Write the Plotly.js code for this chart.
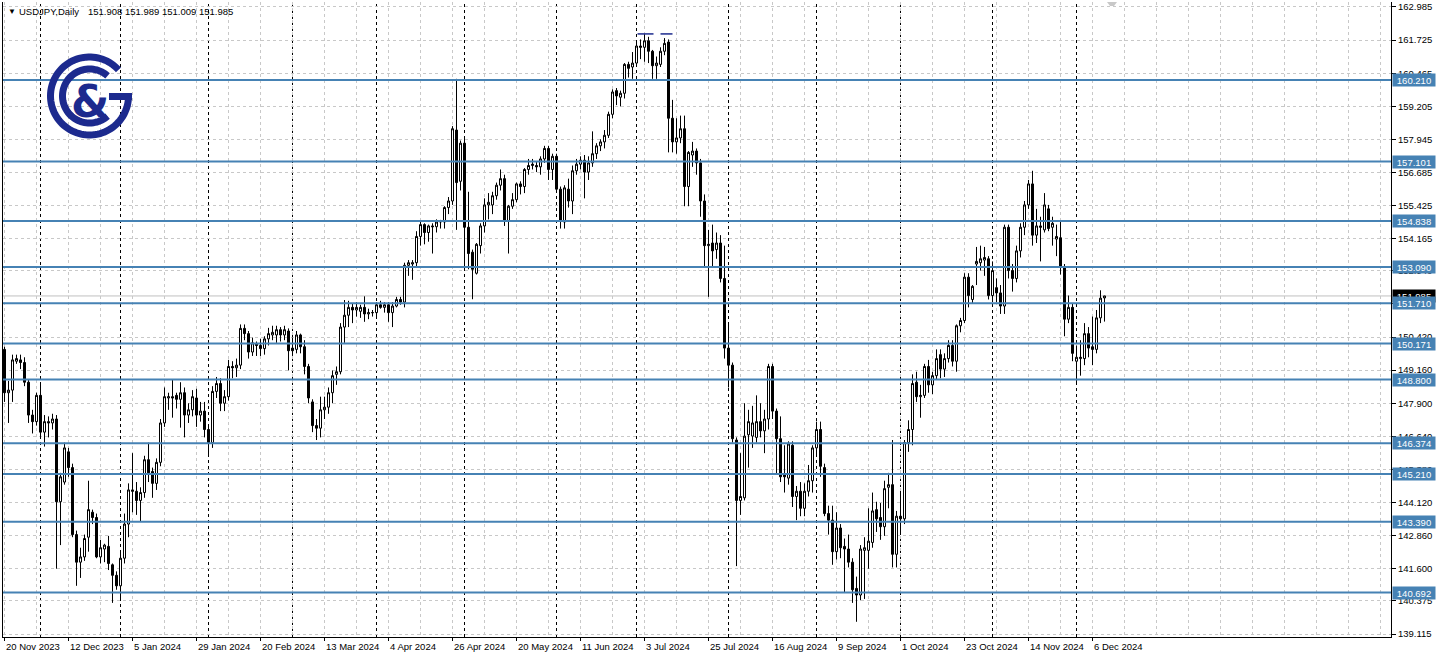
<!DOCTYPE html>
<html><head><meta charset="utf-8">
<script src="https://cdn.plot.ly/plotly-3.0.1.min.js"></script>
<style>html,body{margin:0;padding:0;background:#fff;overflow:hidden}#chart{width:1438px;height:658px}</style>
</head><body><div id="chart"></div>
<script>
// ---------- DATA (USDJPY Daily, 20 Nov 2023 .. 11 Dec 2024, one bar per trading day) ----------
const openP = [
149.95,148.30,148.40,149.50,149.55,149.45,148.70,147.45,147.20,148.20,
146.80,147.20,147.15,147.30,144.15,144.90,146.05,145.45,142.90,141.85,
142.05,142.80,143.75,143.55,142.05,142.35,142.45,141.75,141.35,140.95,
142.00,143.30,144.60,144.55,144.20,144.50,145.75,145.30,144.85,145.65,
147.15,148.10,148.15,148.20,148.05,148.30,147.45,147.65,148.10,147.45,
147.60,146.90,146.40,148.35,148.65,147.90,148.15,149.30,149.25,149.35,
150.75,150.55,149.85,150.15,150.10,149.98,150.35,150.50,150.50,150.70,
150.50,150.65,150.00,149.95,150.50,150.05,149.30,147.95,147.05,146.95,
147.65,147.75,148.30,149.00,149.10,150.80,151.25,151.55,151.45,151.40,
151.55,151.30,151.35,151.35,151.65,151.55,151.65,151.35,151.60,151.85,
151.75,153.15,153.20,153.25,154.25,154.70,154.40,154.65,154.62,154.80,
154.80,155.35,155.60,158.30,156.35,157.80,154.60,153.65,152.85,153.90,
154.65,155.45,155.45,155.80,156.20,156.45,154.85,155.40,155.65,156.25,
156.15,156.80,156.95,156.95,156.90,157.20,157.60,156.80,157.30,156.05,
154.80,156.05,155.60,156.75,157.00,157.15,156.70,157.05,157.40,157.70,
157.85,158.10,158.90,159.80,159.55,159.70,160.80,160.70,160.85,161.50,
161.45,161.70,161.30,160.75,160.80,161.30,161.65,158.75,157.85,158.00,
158.35,156.15,157.35,157.50,157.05,155.60,153.90,154.00,153.75,154.00,
152.65,150.00,149.35,146.50,144.20,144.30,146.70,146.65,146.60,147.20,
146.85,147.30,149.30,147.60,146.55,145.20,145.05,146.30,144.35,144.55,
143.90,144.55,144.95,146.20,146.90,145.45,143.70,143.45,142.25,143.15,
142.45,142.35,141.85,140.85,140.60,142.30,142.30,142.60,143.85,143.55,
143.20,144.70,144.80,142.15,143.60,143.50,146.40,146.90,148.70,148.15,
148.20,149.30,148.60,148.95,149.75,149.20,149.60,150.10,149.50,150.85,
151.05,152.70,151.85,153.20,153.25,153.35,153.40,152.00,152.30,152.10,
151.60,154.60,152.95,152.65,153.70,154.60,155.45,156.25,154.30,154.65,
154.50,155.30,154.60,154.15,154.20,153.05,151.10,151.55,149.50,149.60,
149.60,150.55,150.05,149.95,151.15,151.908];
const highP = [
150.05,148.75,149.75,149.75,149.75,149.65,148.80,147.65,148.30,148.60,
147.45,147.40,147.50,147.45,145.25,146.40,146.20,145.60,143.05,142.40,
142.90,144.95,143.85,143.70,142.70,142.55,142.85,141.80,141.50,142.20,
143.70,144.85,146.00,144.90,144.70,145.90,146.40,145.45,145.80,147.30,
148.50,148.30,148.80,148.30,148.70,148.50,147.90,148.40,148.45,147.95,
147.95,147.00,148.55,148.90,148.85,148.40,149.55,149.50,149.60,150.90,
150.90,150.65,150.40,150.25,150.35,150.45,150.77,150.85,150.85,150.80,
150.85,150.75,150.40,150.65,150.55,150.30,149.40,148.05,147.30,148.15,
148.15,148.50,149.15,149.30,150.95,151.83,151.80,151.70,151.75,151.65,
151.97,151.50,151.45,151.75,151.80,151.75,151.75,151.75,151.95,151.95,
153.25,153.35,153.35,154.45,154.80,154.75,154.70,154.75,154.90,154.88,
155.40,155.75,158.45,160.25,157.90,158.00,155.95,153.75,154.00,154.75,
155.70,155.90,155.95,156.30,156.80,156.60,155.45,155.90,156.30,156.35,
156.85,157.20,157.20,157.10,157.30,157.70,157.70,157.40,157.40,156.15,
156.20,156.45,156.95,157.20,157.30,157.35,157.30,158.25,157.80,157.95,
158.30,159.00,159.85,159.90,159.80,160.85,160.90,161.27,161.72,161.75,
161.95,161.85,161.35,161.10,161.45,161.80,161.75,159.45,158.75,158.85,
158.85,157.50,157.85,157.60,157.20,155.85,154.50,154.70,154.40,154.30,
153.90,150.90,149.45,146.60,146.00,147.90,147.65,147.80,148.20,147.90,
147.65,149.40,149.40,147.70,147.40,146.30,146.45,146.45,144.75,144.90,
144.85,145.55,146.30,147.20,147.20,145.60,144.00,144.00,143.75,143.30,
142.75,142.90,142.00,141.30,142.50,142.80,143.90,144.50,144.15,144.10,
144.95,145.25,146.50,143.80,144.50,146.50,147.25,149.00,149.10,148.60,
149.40,149.55,149.10,149.95,149.95,149.80,150.30,150.30,150.90,151.15,
152.85,152.85,152.40,153.85,153.90,153.85,153.50,153.30,152.65,152.40,
154.70,154.70,153.20,153.90,154.75,155.60,156.40,156.75,155.30,155.00,
155.90,155.45,155.00,154.70,154.80,153.20,152.00,151.70,150.10,150.30,
150.95,150.80,151.20,151.45,152.20,151.989];
const lowP = [
147.95,147.15,147.95,149.40,149.20,148.55,147.15,146.75,147.05,146.60,
146.25,146.60,146.90,141.60,142.50,144.80,145.10,142.80,140.95,141.25,
141.90,142.25,143.30,142.00,141.80,141.85,141.55,140.30,140.80,140.45,
141.80,142.80,143.75,143.65,143.40,144.30,144.90,144.30,144.60,145.50,
147.00,147.65,147.35,147.70,146.97,146.60,147.15,147.40,147.00,147.20,
146.60,145.90,146.20,148.10,147.60,147.60,148.00,148.85,148.90,149.20,
150.30,149.60,149.70,149.70,149.70,149.75,150.10,150.30,150.20,150.25,
150.30,149.15,149.70,149.80,149.80,149.00,147.90,146.80,146.50,146.60,
147.30,147.50,147.90,148.60,149.00,150.20,150.80,150.95,151.20,151.15,
151.00,151.10,151.20,151.20,151.50,151.35,151.00,150.80,151.55,151.65,
151.55,152.75,152.60,153.05,153.90,153.95,154.05,153.60,154.40,154.55,
154.55,155.10,155.45,154.50,156.00,153.00,153.00,151.86,152.80,153.60,
154.40,154.90,155.10,155.65,156.00,154.65,153.60,155.30,155.55,155.85,
155.90,156.60,156.80,156.70,156.60,157.05,156.40,156.40,155.95,154.55,
154.55,155.35,155.10,156.60,156.80,155.70,156.40,156.90,157.20,157.50,
157.60,158.00,158.75,159.25,159.20,159.50,160.30,160.25,160.80,161.00,
160.90,160.85,160.25,160.25,160.70,161.15,157.45,157.45,157.40,157.80,
155.40,155.40,156.90,156.60,155.00,153.10,151.95,153.10,153.40,152.50,
149.60,148.50,146.40,141.70,143.65,144.20,145.45,146.20,146.40,146.60,
146.00,146.90,147.30,145.20,144.90,144.50,144.80,143.95,143.45,143.60,
143.60,144.35,144.50,145.90,145.10,143.60,142.90,141.75,141.95,142.00,
140.70,141.65,140.30,139.58,140.40,140.45,141.60,142.40,143.00,142.70,
142.85,143.90,141.65,141.65,142.95,143.30,146.05,146.30,147.95,147.35,
148.10,148.30,148.25,148.80,148.85,148.90,149.45,149.30,149.10,150.60,
150.95,151.55,151.70,152.40,152.95,152.75,151.85,151.75,151.75,151.30,
151.30,152.65,152.15,152.50,153.45,154.30,155.30,153.90,154.00,153.30,
154.40,154.45,153.90,153.50,152.80,150.45,150.95,149.50,148.70,148.95,
149.35,149.65,149.35,149.80,150.95,151.009];
const closeP = [
148.30,148.40,149.55,149.60,149.45,148.70,147.45,147.20,148.20,146.80,
147.20,147.15,147.30,144.15,145.10,146.20,145.45,142.90,141.85,142.05,
142.75,143.85,143.55,142.05,142.40,142.50,141.80,141.35,140.95,142.00,
143.30,144.60,144.55,144.20,144.50,145.75,145.25,144.85,145.65,147.15,
148.15,148.15,148.10,148.05,148.30,147.45,147.65,148.15,147.45,147.60,
146.90,146.40,148.35,148.65,147.90,148.15,149.30,149.25,149.35,150.75,
150.55,149.85,150.20,150.10,149.98,150.35,150.55,150.60,150.70,150.50,
150.70,149.90,149.90,150.50,150.05,149.30,148.10,147.05,146.95,147.65,
147.75,148.30,148.95,149.10,150.80,151.25,151.55,151.45,151.55,151.55,
151.30,151.35,151.35,151.65,151.55,151.65,151.35,151.60,151.85,151.75,
153.15,153.25,153.25,154.25,154.70,154.40,154.65,154.62,154.80,154.83,
155.35,155.60,158.35,156.30,157.80,154.60,153.60,153.00,153.95,154.65,
155.45,155.55,155.80,156.20,156.45,154.85,155.40,155.65,156.25,156.15,
156.80,156.95,157.00,156.90,157.20,157.60,156.80,157.30,156.05,154.85,
156.10,155.60,156.75,157.00,157.15,156.70,157.05,157.40,157.70,157.85,
158.10,158.90,159.75,159.60,159.70,160.80,160.65,160.85,161.50,161.45,
161.70,161.30,160.75,160.85,161.30,161.60,158.75,157.85,158.00,158.35,
156.15,157.45,157.50,157.05,155.60,153.90,153.95,153.70,154.00,152.65,
150.00,149.35,146.55,144.20,144.35,146.65,147.20,147.15,147.20,146.85,
147.30,149.30,147.60,146.55,145.10,145.10,146.35,144.35,144.55,143.90,
144.55,144.95,146.20,146.90,145.50,143.70,143.45,142.25,143.15,142.40,
142.35,141.85,140.80,140.60,142.35,142.40,142.65,143.80,143.50,143.20,
144.65,144.80,142.15,143.60,143.50,146.40,146.90,148.65,148.15,148.20,
149.30,148.60,148.95,149.60,149.20,149.60,150.10,149.50,150.85,151.05,
152.70,152.00,152.35,153.30,153.40,153.45,152.00,152.95,152.10,151.60,
154.60,152.95,152.65,153.70,154.60,155.45,156.25,154.30,154.65,154.60,
155.45,154.55,154.75,154.25,153.10,151.10,151.55,149.80,149.65,149.65,
150.55,150.00,149.95,151.15,151.90,151.985];

// date labels on the time axis (bar index of each label)
const axisLabels = ['20 Nov 2023','12 Dec 2023','5 Jan 2024','29 Jan 2024','20 Feb 2024','13 Mar 2024','4 Apr 2024','26 Apr 2024','20 May 2024','11 Jun 2024','3 Jul 2024','25 Jul 2024','16 Aug 2024','9 Sep 2024','1 Oct 2024','23 Oct 2024','14 Nov 2024','6 Dec 2024'];
const axisLabelIdx = [0,16,32,48,64,80,96,112,128,144,160,176,192,208,224,240,256,272];
// first trading bar of each month (period separators)
const monthStartIdx = [9,29,51,72,93,115,138,158,181,203,224,247,268];
// price scale labels
const priceTickVals = [162.985,161.725,160.465,159.205,157.945,156.685,155.425,154.165,152.940,151.680,150.420,149.160,147.900,146.640,145.380,144.120,142.860,141.600,140.375,139.115];
const priceTickText = ['162.985','161.725','160.465','159.205','157.945','156.685','155.425','154.165','152.940','151.680','150.420','149.160','147.900','146.640','145.380','144.120','142.860','141.600','140.375','139.115'];
// horizontal support / resistance levels
const levels = [160.210,157.101,154.838,153.090,151.710,150.171,148.800,146.374,145.210,143.390,140.692];
// last bar O/H/L/C shown in the header and current price
const headerOHLC = ['151.908','151.989','151.009','151.985'];
const lastPrice = 151.985;
// two short top markers (bar index spans) at the July high
const topMarkSpans = [[158.25,162.25],[164.0,167.0]];
const topMarkPrice = 161.96;

// ---------- LAYOUT HELPERS ----------
const PL=3, PR=1391, PT=2, PB=637;
const px = x => (x-PL)/(PR-PL);
const py = y => (PB-y)/(PB-PT);
const FONT = 'Liberation Sans, Arial, sans-serif';
const STEEL = '#4682B4';
const NAVY = '#1c2a8e';

const barIdx = openP.map((_, i) => i);

const trace = {
  type:'candlestick', x:barIdx, open:openP, high:highP, low:lowP, close:closeP,
  increasing:{line:{color:'#000',width:1}, fillcolor:'#ffffff'},
  decreasing:{line:{color:'#000',width:1}, fillcolor:'#000000'},
  whiskerwidth:0, hoverinfo:'skip', showlegend:false
};

const shapes = [];
// current price line
shapes.push({type:'line', xref:'paper', x0:0, x1:1, yref:'y', y0:lastPrice, y1:lastPrice, line:{color:'#c0c0c0', width:1}, layer:'between'});
// month separators
monthStartIdx.forEach(i => shapes.push({type:'line', xref:'x', x0:i, x1:i, yref:'paper', y0:0, y1:1, line:{color:'#000', width:1, dash:'3px,3px'}, layer:'between'}));
// levels
levels.forEach(v => shapes.push({type:'line', xref:'paper', x0:0, x1:1, yref:'y', y0:v, y1:v, line:{color:STEEL, width:2}, layer:'above'}));
// top markers
topMarkSpans.forEach(s => shapes.push({type:'line', xref:'x', x0:s[0], x1:s[1], yref:'y', y0:topMarkPrice, y1:topMarkPrice, line:{color:NAVY, width:1.5}, layer:'above'}));
// chart shift marker
shapes.push({type:'path', xref:'paper', yref:'paper', path:`M${px(1107)},${py(2)} L${px(1117)},${py(2)} L${px(1114)},${py(6)} L${px(1110)},${py(6)} Z`, fillcolor:'#c8c8c8', line:{width:0}, layer:'above'});

// logo arcs (pixel geometry -> paper coordinates)
function arcPath(cx, cy, r, a0, a1, n){
  let s='';
  for(let k=0;k<=n;k++){
    const a=(a0+(a1-a0)*k/n)*Math.PI/180;
    const X=cx+r*Math.cos(a), Y=cy-r*Math.sin(a);
    s += (k?' L':'M') + px(X).toFixed(6) + ',' + py(Y).toFixed(6);
  }
  return s;
}
shapes.push({type:'path', xref:'paper', yref:'paper', path:arcPath(89.5,96,39,42,360,90), line:{color:NAVY, width:7}, layer:'above'});
shapes.push({type:'path', xref:'paper', yref:'paper', path:`M${px(109)},${py(96.5)} L${px(132)},${py(96.5)}`, line:{color:NAVY, width:7}, layer:'above'});
shapes.push({type:'path', xref:'paper', yref:'paper', path:arcPath(89.5,96,27,48,312,70), line:{color:NAVY, width:7}, layer:'above'});

const annotations = [];
// header
annotations.push({xref:'paper', yref:'paper', x:px(6), y:py(12), xanchor:'left', yanchor:'middle', text:'▼', showarrow:false, font:{family:FONT, size:8, color:'#000'}});
annotations.push({xref:'paper', yref:'paper', x:px(17), y:py(12), xanchor:'left', yanchor:'middle', text:'USDJPY,Daily', showarrow:false, font:{family:FONT, size:9.5, color:'#000'}});
annotations.push({xref:'paper', yref:'paper', x:px(86), y:py(12), xanchor:'left', yanchor:'middle', text:headerOHLC.join(' '), showarrow:false, font:{family:FONT, size:9.5, color:'#000'}});
// logo ampersand
annotations.push({xref:'paper', yref:'paper', x:px(90), y:py(101), xanchor:'center', yanchor:'middle', text:'<b>&amp;</b>', showarrow:false, font:{family:'DejaVu Sans, sans-serif', size:44, color:NAVY}});
// time labels
axisLabels.forEach((t,k) => annotations.push({xref:'x', yref:'paper', x:axisLabelIdx[k], y:0, xanchor:'left', yanchor:'top', xshift:-1, yshift:-2, text:t, showarrow:false, font:{family:FONT, size:9.5, color:'#000'}}));
// current price label (black) then level labels (blue)
annotations.push({xref:'paper', yref:'y', x:1, y:lastPrice, xanchor:'left', yanchor:'middle', xshift:1, text:lastPrice.toFixed(3), showarrow:false, bgcolor:'#000', width:40, height:10, borderpad:1, font:{family:FONT, size:9.5, color:'#fff'}});
levels.forEach(v => annotations.push({xref:'paper', yref:'y', x:1, y:v, xanchor:'left', yanchor:'middle', xshift:1, text:v.toFixed(3), showarrow:false, bgcolor:STEEL, width:40, height:10, borderpad:1, font:{family:FONT, size:9.5, color:'#fff'}}));

const layout = {
  width:1438, height:658, autosize:false,
  margin:{l:PL, r:1438-PR, t:PT, b:658-PB, pad:0},
  paper_bgcolor:'#fff', plot_bgcolor:'#fff', showlegend:false,
  boxgap:0.3, boxgroupgap:0.2857,
  xaxis:{
    range:[-0.375, 346.625], rangeslider:{visible:false}, fixedrange:true,
    tickmode:'array', tickvals:axisLabelIdx, ticktext:axisLabelIdx.map(()=>''), showticklabels:false,
    ticks:'outside', ticklen:3, tickcolor:'#000', tickwidth:1,
    showgrid:true, gridcolor:'#c8c8c8', griddash:'3px,3px', gridwidth:1,
    minor:{tickmode:'linear', tick0:0, dtick:8, showgrid:true, gridcolor:'#c8c8c8', griddash:'3px,3px', gridwidth:1, ticks:''},
    showline:true, linecolor:'#000', linewidth:1, mirror:false, zeroline:false
  },
  yaxis:{
    side:'right', range:[139.001, 163.175], fixedrange:true,
    tickmode:'array', tickvals:priceTickVals, ticktext:priceTickText,
    ticks:'outside', ticklen:4, tickcolor:'#000', tickwidth:1,
    tickfont:{family:FONT, size:9.5, color:'#000'},
    showgrid:true, gridcolor:'#c8c8c8', griddash:'3px,3px', gridwidth:1,
    showline:true, linecolor:'#000', linewidth:1, mirror:true, zeroline:false
  },
  shapes:shapes, annotations:annotations
};

Plotly.newPlot('chart', [trace], layout, {staticPlot:true, displayModeBar:false});
</script>
</body></html>
